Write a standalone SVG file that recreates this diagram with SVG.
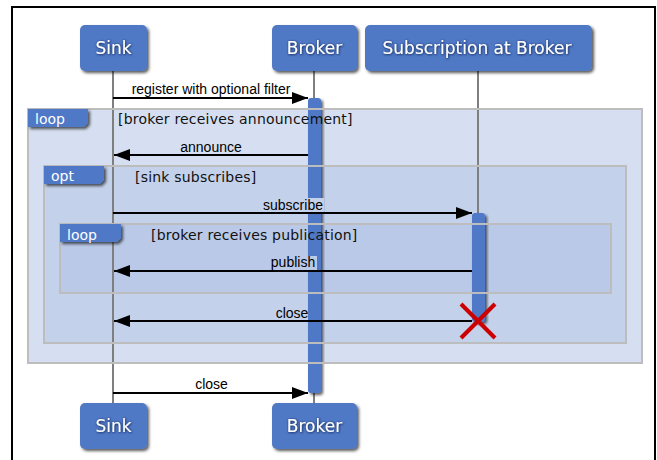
<svg xmlns="http://www.w3.org/2000/svg" width="657" height="460" viewBox="0 0 657 460">
<defs>
<filter id="sh" x="-20%" y="-20%" width="150%" height="150%">
<feDropShadow dx="2" dy="2" stdDeviation="1.6" flood-color="#000" flood-opacity="0.65"/>
</filter>
<filter id="tsh" x="-20%" y="-40%" width="140%" height="180%">
<feDropShadow dx="0.5" dy="0.5" stdDeviation="1.2" flood-color="#0a1840" flood-opacity="1"/>
</filter>
<marker id="ah" markerUnits="userSpaceOnUse" markerWidth="17" markerHeight="12" refX="16" refY="6" orient="auto">
<path d="M0,0 L16,6 L0,12 Z" fill="#000"/>
</marker>
<style>
.box{fill:#5078c5;filter:url(#sh)}
.hdr{font-family:"DejaVu Sans",Verdana,sans-serif;font-size:17px;fill:#fff;text-anchor:middle;filter:url(#tsh)}
.life{stroke:#7f7f7f;stroke-width:2;fill:none}
.bar{fill:#4f79c6;filter:url(#sh)}
.frm{stroke:#bdbdbd;stroke-width:2}
.tag{fill:#4f79c6;filter:url(#sh)}
.tagt{font-family:"DejaVu Sans",Verdana,sans-serif;font-size:14px;fill:#fff}
.grd{font-family:"DejaVu Sans",Verdana,sans-serif;font-size:14px;fill:#111;letter-spacing:0.2px}
.msg{stroke:#000;stroke-width:2;fill:none;marker-end:url(#ah)}
.lbl{font-family:"Liberation Sans",Arial,sans-serif;font-size:14px;fill:#000;text-anchor:middle}
</style>
</defs>
<rect x="0" y="0" width="657" height="460" fill="#fff"/>
<rect x="12" y="7" width="643" height="470" fill="#fff" stroke="#000" stroke-width="2"/>

<g id="frames">
<rect id="loop1" class="frm" x="28" y="109" width="614" height="254" fill="#d6dff1"/>
<rect id="opt1" class="frm" x="44" y="166" width="582" height="177" fill="#c4d1eb"/>
<rect id="loop2" class="frm" x="60" y="224" width="551" height="69" fill="#bac9e7"/>
</g>

<g id="lifelines">
<line class="life" x1="113" y1="71" x2="113" y2="403"/>
<line class="life" x1="314" y1="71" x2="314" y2="403"/>
<line class="life" x1="478" y1="71" x2="478" y2="213"/>
</g>

<g id="activations">
<rect class="bar" x="308" y="98" width="13" height="295" rx="3"/>
<rect class="bar" x="472" y="213" width="13" height="109" rx="3"/>
</g>

<g id="frame-labels">
<rect fill="none" class="frm" x="28" y="109" width="614" height="254"/>
<path class="tag" d="M28,109 H88 V123 L84,127 H28 Z"/>
<text class="tagt" x="35" y="124">loop</text>
<text class="grd" x="118" y="124">[broker receives announcement]</text>
<rect fill="none" class="frm" x="44" y="166" width="582" height="177"/>
<path class="tag" d="M44,166 H104 V180 L100,184 H44 Z"/>
<text class="tagt" x="51" y="181">opt</text>
<text class="grd" x="135" y="182">[sink subscribes]</text>
<rect fill="none" class="frm" x="60" y="224" width="551" height="69"/>
<path class="tag" d="M60,224 H121 V238 L117,242 H60 Z"/>
<text class="tagt" x="67" y="240">loop</text>
<text class="grd" x="151" y="240">[broker receives publication]</text>
</g>

<g id="sink-top">
<rect class="box" x="80" y="25" width="67" height="46" rx="5"/>
<text class="hdr" x="113.5" y="54">Sink</text>
</g>
<g id="broker-top">
<rect class="box" x="272" y="25" width="85" height="46" rx="5"/>
<text class="hdr" x="314.5" y="54">Broker</text>
</g>
<g id="subscription">
<rect class="box" x="365" y="25" width="227" height="46" rx="5"/>
<text class="hdr" x="477" y="54">Subscription at Broker</text>
</g>
<g id="sink-bottom">
<rect class="box" x="80" y="403" width="67" height="46" rx="5"/>
<text class="hdr" x="113.5" y="432">Sink</text>
</g>
<g id="broker-bottom">
<rect class="box" x="272" y="403" width="85" height="46" rx="5"/>
<text class="hdr" x="314.5" y="432">Broker</text>
</g>

<g id="connectors">
<line class="msg" x1="113" y1="98" x2="308" y2="98"/>
<text class="lbl" x="211" y="94">register with optional filter</text>

<line class="msg" x1="308" y1="155" x2="114" y2="155"/>
<text class="lbl" x="211" y="152">announce</text>

<rect x="262" y="198" width="62" height="14" fill="#c4d1eb"/>
<line class="msg" x1="113" y1="213" x2="472" y2="213"/>
<text class="lbl" x="293" y="210">subscribe</text>

<rect x="270" y="256" width="47" height="14" fill="#bac9e7"/>
<line class="msg" x1="472" y1="271" x2="114" y2="271"/>
<text class="lbl" x="293" y="267">publish</text>

<line class="msg" x1="472" y1="321" x2="114" y2="321"/>
<text class="lbl" x="292" y="318">close</text>

<line class="msg" x1="113" y1="393" x2="308" y2="393"/>
<text class="lbl" x="211.5" y="389">close</text>

<g id="destroy" stroke="#cc0000" stroke-width="4">
<line x1="461" y1="304" x2="495" y2="338"/>
<line x1="495" y1="304" x2="461" y2="338"/>
</g>
</g>
</svg>
